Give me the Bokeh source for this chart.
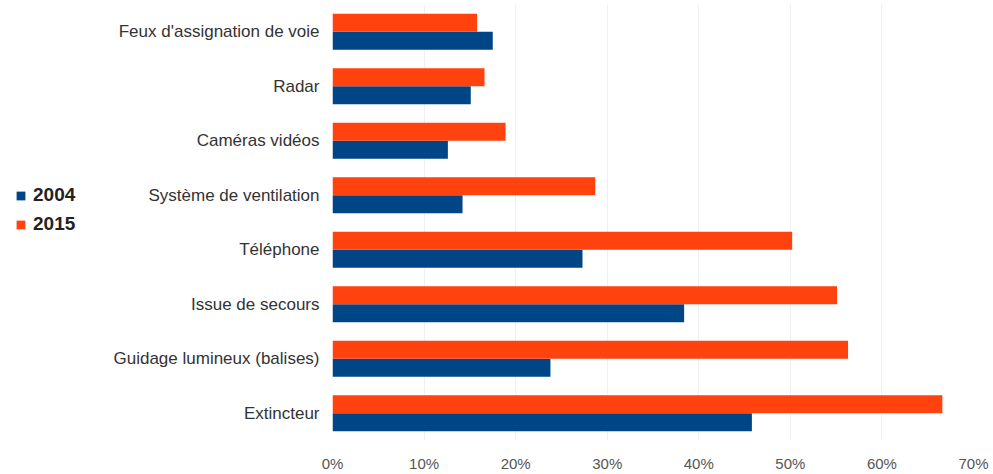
from bokeh.plotting import figure
from bokeh.models import ColumnDataSource, FactorRange, Legend, LegendItem
from bokeh.layouts import row
from bokeh.transform import dodge
from bokeh.embed import file_html
from bokeh.resources import INLINE

categories = ["Extincteur", "Guidage lumineux (balises)", "Issue de secours", "Téléphone",
              "Système de ventilation", "Caméras vidéos", "Radar", "Feux d'assignation de voie"]
values_2004 = [45.8, 23.8, 38.4, 27.3, 14.2, 12.6, 15.1, 17.5]
values_2015 = [66.6, 56.3, 55.1, 50.2, 28.7, 18.9, 16.6, 15.8]
series_names = ["2004", "2015"]
series_colors = ["#004586", "#ff420e"]
x_ticks = [0, 10, 20, 30, 40, 50, 60, 70]

src = ColumnDataSource(dict(cat=categories, v2004=values_2004, v2015=values_2015))

LEG_W = 110
p = figure(width=993 - LEG_W, height=474, output_backend="svg", toolbar_location=None,
           y_range=FactorRange(*categories, range_padding=0), x_range=(0, 70),
           min_border_left=331 - LEG_W - 2, min_border_right=20, min_border_top=4, min_border_bottom=33)

p.hbar(y=dodge("cat", -0.165, range=p.y_range), right="v2004", height=0.33,
       source=src, color=series_colors[0], line_color=None)
p.hbar(y=dodge("cat", 0.165, range=p.y_range), right="v2015", height=0.33,
       source=src, color=series_colors[1], line_color=None)

p.xaxis.ticker = x_ticks
p.xaxis.major_label_overrides = {t: f"{t}%" for t in x_ticks}
p.xaxis.axis_line_color = None
p.xaxis.major_tick_line_color = None
p.xaxis.major_tick_out = 0
p.xaxis.minor_tick_line_color = None
p.xaxis.major_label_text_font = "Liberation Sans"
p.xaxis.major_label_text_font_size = "15px"
p.xaxis.major_label_text_color = "#555555"
p.xaxis.major_label_standoff = 14

p.yaxis.axis_line_color = None
p.yaxis.major_tick_line_color = None
p.yaxis.major_tick_out = 0
p.yaxis.minor_tick_line_color = None
p.yaxis.major_label_text_font = "Liberation Sans"
p.yaxis.major_label_text_font_size = "17px"
p.yaxis.major_label_text_color = "#333333"
p.yaxis.major_label_standoff = 13

p.xgrid.grid_line_color = "#f0f0f0"
p.ygrid.grid_line_color = None
p.outline_line_color = None

# legend panel
lg = figure(width=LEG_W, height=474, output_backend="svg", toolbar_location=None,
            x_range=(0, 1), y_range=(0, 1), x_axis_location=None, y_axis_location=None,
            min_border=0)
lg.grid.grid_line_color = None
lg.outline_line_color = None
lr = [lg.rect(x=[-5], y=[-5], width=0.1, height=0.1, color=c, line_color=None)
      for c in series_colors]
legend = Legend(items=[LegendItem(label=n, renderers=[r]) for n, r in zip(series_names, lr)],
                location=(15, 205), orientation="vertical",
                border_line_color=None, background_fill_alpha=0,
                label_text_font="Liberation Sans", label_text_font_size="19px",
                label_text_font_style="bold", label_text_color="#222222",
                glyph_width=11, glyph_height=11, spacing=7, padding=0, margin=0,
                label_standoff=7, label_height=19)
lg.add_layout(legend, "center")

layout = row(lg, p)
open("out.html", "w").write(file_html(layout, INLINE))
